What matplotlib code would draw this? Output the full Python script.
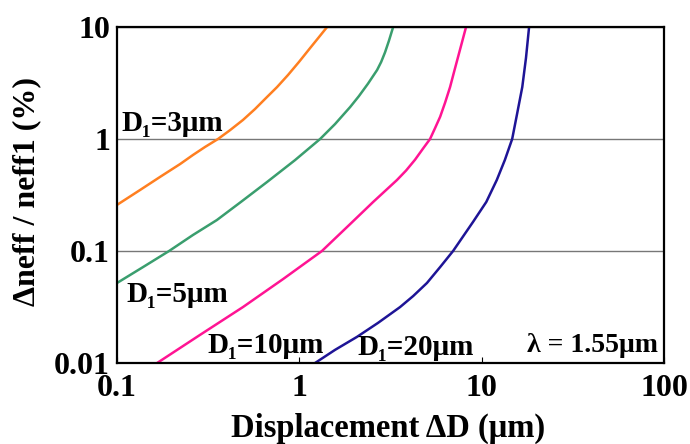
import matplotlib
matplotlib.use("Agg")
import matplotlib.pyplot as plt
from matplotlib.ticker import FixedLocator, FixedFormatter, NullLocator

plt.rcParams["font.family"] = ["Liberation Serif", "DejaVu Serif"]
plt.rcParams["font.weight"] = "bold"

# values (displacement in um, delta neff in %)
d3_x = [0.100, 0.134, 0.172, 0.222, 0.261, 0.304, 0.358, 0.417, 0.491,
        0.571, 0.656, 0.755, 0.867, 0.995, 1.146, 1.27, 1.42]
d3_y = [0.258, 0.351, 0.458, 0.598, 0.720, 0.849, 1.0, 1.20, 1.48,
        1.85, 2.32, 2.91, 3.73, 4.87, 6.49, 7.98, 10]

d5_x = [0.100, 0.139, 0.193, 0.261, 0.353, 0.485, 0.665, 0.946, 1.30,
        1.57, 1.90, 2.12, 2.38, 2.67, 2.81, 2.95, 3.10, 3.27]
d5_y = [0.0518, 0.0719, 0.1, 0.139, 0.189, 0.279, 0.413, 0.647, 1.0,
        1.36, 1.93, 2.41, 3.12, 4.13, 4.87, 5.93, 7.53, 10]

d10_x = [0.166, 0.285, 0.491, 0.815, 1.33, 1.90, 2.54, 3.43, 3.85, 4.31,
         4.77, 5.21, 5.55, 5.92, 6.30, 6.71, 7.05, 7.41, 7.80, 8.21]
d10_y = [0.01, 0.0178, 0.0316, 0.0562, 0.1, 0.174, 0.274, 0.430, 0.523, 0.653,
         0.822, 1.0, 1.25, 1.58, 2.11, 2.91, 3.95, 5.35, 7.31, 10]

d20_x = [1.22, 1.57, 2.07, 2.70, 3.57, 4.21, 5.01, 5.92, 6.97, 8.97, 10.6,
         12.1, 13.4, 14.7, 15.6, 16.7, 17.5, 18.2]
d20_y = [0.01, 0.0131, 0.0171, 0.0228, 0.0316, 0.0396, 0.0518, 0.0719, 0.1,
         0.182, 0.274, 0.430, 0.649, 1.0, 1.64, 2.91, 5.29, 10]

x_ticks = [0.1, 1, 10, 100]
x_labels = ["0.1", "1", "10", "100"]
y_ticks = [0.01, 0.1, 1, 10]
y_labels = ["0.01", "0.1", "1", "10"]

fig = plt.figure(figsize=(6.9, 4.44), dpi=100)
ax = fig.add_axes([117 / 690, 1 - 363 / 444, 547 / 690, 336 / 444])

ax.plot(d3_x, d3_y, color="#ff7f20", lw=1.8)
ax.plot(d5_x, d5_y, color="#3a9e6e", lw=1.8)
ax.plot(d10_x, d10_y, color="#ff1493", lw=1.8)
ax.plot(d20_x, d20_y, color="#1e1496", lw=1.8)

ax.set_xscale("log")
ax.set_yscale("log")
ax.set_xlim(0.1, 100)
ax.set_ylim(0.01, 10)

ax.xaxis.set_major_locator(FixedLocator(x_ticks))
ax.xaxis.set_major_formatter(FixedFormatter(x_labels))
ax.xaxis.set_minor_locator(NullLocator())
ax.yaxis.set_major_locator(FixedLocator(y_ticks))
ax.yaxis.set_major_formatter(FixedFormatter(y_labels))
ax.yaxis.set_minor_locator(NullLocator())

ax.tick_params(axis="x", direction="in", length=4, width=0.8, pad=8, labelsize=23)
ax.tick_params(axis="y", length=0, pad=5, labelsize=23)
ax.yaxis.grid(True, color="#777777", lw=1)
ax.set_axisbelow(True)
for s in ax.spines.values():
    s.set_linewidth(1.6)

lab = dict(fontweight="bold", transform=ax.transAxes, va="baseline")
ax.text(0.009, 0.69, "D\u2081=3\u03bcm", fontsize=21, **lab)
ax.text(0.018, 0.182, "D\u2081=5\u03bcm", fontsize=21, **lab)
ax.text(0.165, 0.030, "D\u2081=10\u03bcm", fontsize=21, **lab)
ax.text(0.439, 0.024, "D\u2081=20\u03bcm", fontsize=21, **lab)
ax.text(0.989, 0.033, "\u03bb = 1.55\u03bcm", ha="right", fontsize=20, **lab)

fig.text(388 / 690, 1 - 437 / 444, "Displacement \u0394D (\u03bcm)",
         ha="center", va="baseline", fontsize=23.5, fontweight="bold")
fig.text(27 / 690, 1 - 192 / 444, "\u0394neff / neff1 (%)", rotation=90,
         ha="center", va="center", fontsize=23, fontweight="bold")

fig.savefig("out.png", dpi=100)
